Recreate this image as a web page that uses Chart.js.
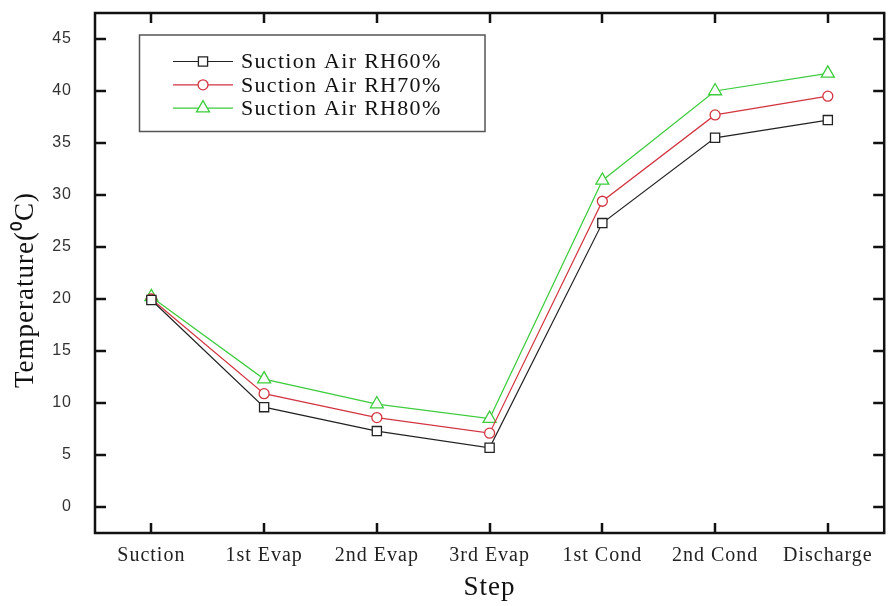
<!DOCTYPE html>
<html>
<head>
<meta charset="utf-8">
<script src="https://cdn.jsdelivr.net/npm/chart.js@4.4.1/dist/chart.umd.min.js"></script>
<style>
  html, body { margin: 0; padding: 0; background: #fff; }
  #wrap { width: 893px; height: 606px; }
</style>
</head>
<body>
<div id="wrap"><canvas id="chart" width="893" height="606"></canvas></div>
<script>
const steps = ['Suction', '1st Evap', '2nd Evap', '3rd Evap', '1st Cond', '2nd Cond', 'Discharge'];
const rh60 = [19.9, 9.6, 7.3, 5.7, 27.3, 35.5, 37.2];
const rh70 = [20.0, 10.9, 8.6, 7.1, 29.4, 37.7, 39.5];
const rh80 = [20.2, 12.3, 9.9, 8.5, 31.4, 40.0, 41.7];
const yTicks = [0, 5, 10, 15, 20, 25, 30, 35, 40, 45];
const seriesNames = ['Suction Air RH60%', 'Suction Air RH70%', 'Suction Air RH80%'];

const serif = '"Liberation Serif", "Times New Roman", serif';
const sans = '"Liberation Sans", Arial, sans-serif';

function series(label, data, color, style, radius) {
    return {
        label: label,
        data: data,
        borderColor: color,
        borderWidth: 1.2,
        tension: 0,
        fill: false,
        pointStyle: style,
        pointRadius: radius,
        pointHoverRadius: radius,
        pointBackgroundColor: '#fff',
        pointBorderColor: color,
        pointBorderWidth: 1.3
    };
}

// box frame with inward ticks on all four sides, legend box and rotated y title
const framePlugin = {
    id: 'frame',
    beforeDraw(chart) {
        chart.ctx.letterSpacing = '1px';
    },
    afterDraw(chart) {
        const ctx = chart.ctx;
        const a = chart.chartArea;
        const x = chart.scales.x;
        const y = chart.scales.y;
        ctx.save();
        ctx.strokeStyle = '#111';
        ctx.lineWidth = 2.5;
        ctx.strokeRect(a.left, a.top, a.right - a.left, a.bottom - a.top);
        ctx.beginPath();
        y.ticks.forEach(t => {
            const py = Math.round(y.getPixelForValue(t.value));
            ctx.moveTo(a.left, py); ctx.lineTo(a.left + 11, py);
            ctx.moveTo(a.right, py); ctx.lineTo(a.right - 11, py);
        });
        x.ticks.forEach((t, i) => {
            const px = Math.round(x.getPixelForTick(i));
            ctx.moveTo(px, a.bottom); ctx.lineTo(px, a.bottom - 10);
            ctx.moveTo(px, a.top); ctx.lineTo(px, a.top + 10);
        });
        ctx.stroke();

        // legend
        ctx.strokeStyle = '#555';
        ctx.lineWidth = 1.5;
        ctx.strokeRect(139.5, 35, 345.5, 96.5);
        ctx.font = '22px ' + serif;
        ctx.letterSpacing = '1.3px';
        ctx.textBaseline = 'middle';
        ctx.textAlign = 'left';
        chart.data.datasets.forEach((ds, i) => {
            const ly = 61.5 + i * 23.3;
            ctx.strokeStyle = ds.borderColor;
            ctx.lineWidth = 1.2;
            ctx.beginPath();
            ctx.moveTo(173, ly); ctx.lineTo(233, ly);
            ctx.stroke();
            ctx.fillStyle = '#fff';
            ctx.lineWidth = 1.3;
            Chart.helpers.drawPoint(ctx, {pointStyle: ds.pointStyle, rotation: 0, radius: ds.pointRadius, borderWidth: 1.3}, 203, ly);
            ctx.fillStyle = '#111';
            ctx.fillText(ds.label, 241, ly + 1);
        });

        // y axis title
        ctx.letterSpacing = '1px';
        ctx.translate(26, 290);
        ctx.rotate(-Math.PI / 2);
        ctx.textAlign = 'center';
        ctx.font = '27px ' + serif;
        ctx.fillStyle = '#111';
        ctx.fillText('Temperature(⁰C)', 0, 0);
        ctx.restore();
    }
};

new Chart(document.getElementById('chart'), {
    type: 'line',
    data: {
        labels: steps,
        datasets: [
            series(seriesNames[0], rh60, '#222', 'rect', 6.5),
            series(seriesNames[1], rh70, '#d23441', 'circle', 5),
            series(seriesNames[2], rh80, '#3ccc3c', 'triangle', 7.5)
        ]
    },
    options: {
        responsive: false,
        animation: false,
        devicePixelRatio: 1,
        layout: { padding: { top: 13, right: 1, left: 0, bottom: 0 } },
        plugins: {
            legend: { display: false },
            tooltip: { enabled: false }
        },
        scales: {
            x: {
                offset: true,
                grid: { display: false },
                border: { display: false },
                ticks: {
                    color: '#222',
                    font: { family: serif, size: 20 },
                    padding: 3,
                    maxRotation: 0,
                    autoSkip: false
                },
                title: {
                    display: true,
                    text: 'Step',
                    color: '#111',
                    font: { family: serif, size: 27 },
                    padding: { top: 0, bottom: 2 }
                },
                afterFit(s) {
                    s.height = 73;
                    s.paddingLeft = 0;
                    s.paddingRight = 0;
                }
            },
            y: {
                min: -2.5,
                max: 47.5,
                grid: { display: false },
                border: { display: false },
                afterBuildTicks(s) { s.ticks = yTicks.map(v => ({ value: v })); },
                ticks: {
                    color: '#333',
                    font: { family: sans, size: 16 },
                    padding: 15
                },
                afterFit(s) {
                    s.width = 95;
                    s.paddingTop = 0;
                    s.paddingBottom = 0;
                }
            }
        }
    },
    plugins: [framePlugin]
});
</script>
</body>
</html>
